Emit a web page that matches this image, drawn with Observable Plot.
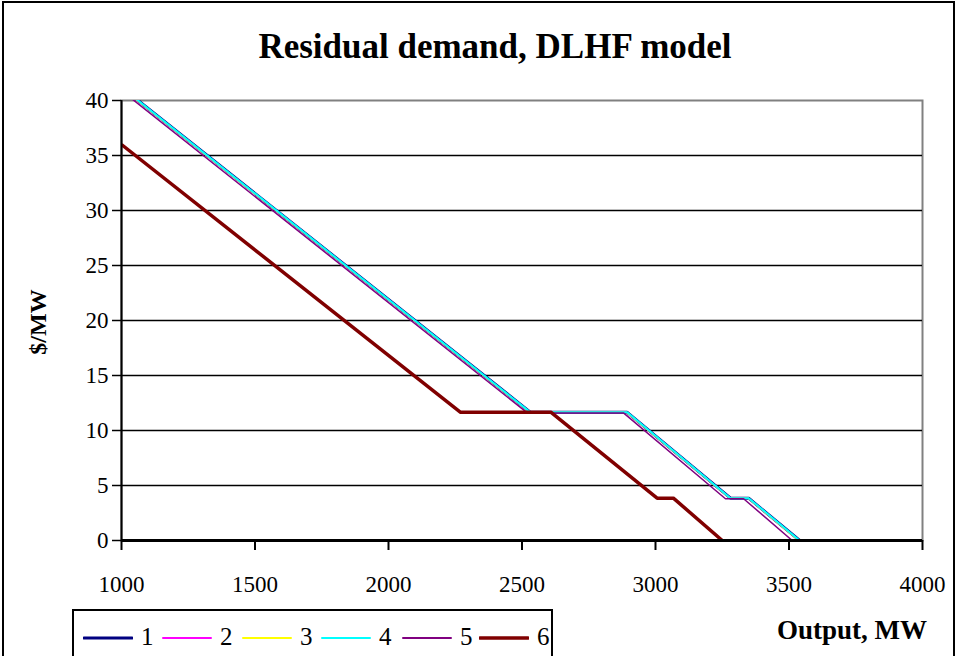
<!DOCTYPE html>
<html>
<head>
<meta charset="utf-8">
<script src="https://cdn.jsdelivr.net/npm/d3@7"></script>
<script src="https://cdn.jsdelivr.net/npm/@observablehq/plot@0.6"></script>
<style>
  html, body { margin: 0; padding: 0; background: white; }
  #wrap { position: relative; width: 959px; height: 656px; overflow: hidden; font-family: "Liberation Serif", serif; color: black; }
  #border { position: absolute; left: 2px; top: 1px; width: 953px; height: 680px; border: 2px solid black; box-sizing: border-box; }
  #title { position: absolute; left: 0; width: 990px; top: 27px; text-align: center; font-weight: bold; font-size: 35px; font-family: "Liberation Serif", serif; }
  #ylabel { position: absolute; left: 38px; top: 322px; transform: translate(-50%, -50%) rotate(-90deg); font-weight: bold; font-size: 24px; white-space: nowrap; font-family: "Liberation Serif", serif; }
  #xlabel { position: absolute; left: 777px; top: 615px; font-weight: bold; font-size: 27px; white-space: nowrap; font-family: "Liberation Serif", serif; }
  #legend { position: absolute; left: 72px; top: 609px; width: 481px; height: 70px; border: 2px solid black; box-sizing: border-box; }
  .item { position: absolute; top: 10px; font-size: 25px; line-height: 30px; height: 30px; font-family: "Liberation Serif", serif; }
  #plot { position: absolute; left: 0; top: 0; }
  #plot svg text { font-family: "Liberation Serif", serif !important; }
</style>
</head>
<body>
<div id="wrap">
  <div id="border"></div>
  <div id="plot"></div>
  <div id="title">Residual demand, DLHF model</div>
  <div id="ylabel">$/MW</div>
  <div id="xlabel">Output, MW</div>
  <div id="legend"></div>
</div>
<script>
// Data: points (output MW, price $/MW) for each series
const seriesNames = ["1", "2", "3", "4", "5", "6"];
const s1 = [[1000, 41.2], [2532, 11.65], [2894, 11.65], [3281, 3.85], [3349, 3.85], [3540, 0]];
const s2 = [[1000, 41.15], [2530, 11.65], [2892, 11.65], [3279, 3.85], [3347, 3.85], [3537, 0]];
const s3 = [[1000, 41.15], [2530, 11.65], [2892, 11.65], [3279, 3.85], [3347, 3.85], [3537, 0]];
const s4 = [[1000, 41.2], [2532, 11.65], [2894, 11.65], [3281, 3.85], [3349, 3.85], [3540, 0]];
const s5 = [[1000, 40.9], [2520, 11.6], [2880, 11.6], [3262, 3.8], [3330, 3.8], [3512, 0]];
const s6 = [[1000, 36], [2270, 11.65], [2609, 11.65], [3006, 3.85], [3067, 3.85], [3250, 0]];
const seriesData = [s1, s2, s3, s4, s5, s6];
const seriesColors = ["#000080", "#FF00FF", "#FFFF00", "#00FFFF", "#800080", "#800000"];
const seriesWidths = [3, 1.5, 1.5, 2, 1.5, 3.5];
const xTicks = [1000, 1500, 2000, 2500, 3000, 3500, 4000];
const yTicks = [0, 5, 10, 15, 20, 25, 30, 35, 40];

const rows = seriesData.flatMap((pts, i) => pts.map(([x, y]) => ({series: seriesNames[i], x, y})));

const lineMarks = seriesNames.map((name, i) =>
  Plot.line(rows.filter(d => d.series === name), {
    x: "x", y: "y", stroke: seriesColors[i], strokeWidth: seriesWidths[i], clip: true,
    strokeLinejoin: "miter", strokeLinecap: "butt"
  })
);

const FONT = "Liberation Serif";

const chart = Plot.plot({
  width: 959,
  height: 600,
  marginLeft: 121,
  marginRight: 37,
  marginTop: 100,
  marginBottom: 60,
  style: { background: "transparent", color: "black" },
  x: { domain: [1000, 4000], ticks: xTicks, label: null },
  y: { domain: [0, 40], ticks: yTicks, label: null },
  marks: [
    Plot.frame({ stroke: "#808080", strokeWidth: 2 }),
    Plot.ruleY(yTicks.filter(d => d > 0 && d < 40), { stroke: "black", strokeWidth: 1.5 }),
    ...lineMarks,
    Plot.ruleX([1000], { stroke: "black", strokeWidth: 2 }),
    Plot.ruleY([0], { stroke: "black", strokeWidth: 3 }),
    Plot.axisY({ ticks: yTicks, tickSize: 9, tickPadding: 4, fontSize: 23, fontFamily: FONT, tickFormat: d => String(d), label: null, strokeWidth: 1.5 }),
    Plot.axisX({ ticks: xTicks, tickSize: 10, tickPadding: 25, fontSize: 23, fontFamily: FONT, tickFormat: d => String(d), label: null, strokeWidth: 2 })
  ]
});
chart.setAttribute("font-family", FONT);
chart.querySelectorAll("g, text").forEach(t => { if (t.hasAttribute("font-family")) t.setAttribute("font-family", FONT); t.removeAttribute("font-variant"); });
document.getElementById("plot").appendChild(chart);

// Legend
const legend = document.getElementById("legend");
const legendLefts = [9, 88, 168, 247, 328, 405];
seriesNames.forEach((name, i) => {
  const item = document.createElement("div");
  item.className = "item";
  item.style.left = legendLefts[i] + "px";
  item.innerHTML = `<svg width="50" height="30" style="vertical-align: top"><line x1="1" x2="49" y1="17" y2="17" stroke="${seriesColors[i]}" stroke-width="${Math.max(seriesWidths[i], 2)}" stroke-linecap="round"/></svg><span style="position:absolute; left:58px; top:1px">${name}</span>`;
  legend.appendChild(item);
});
</script>
</body>
</html>
